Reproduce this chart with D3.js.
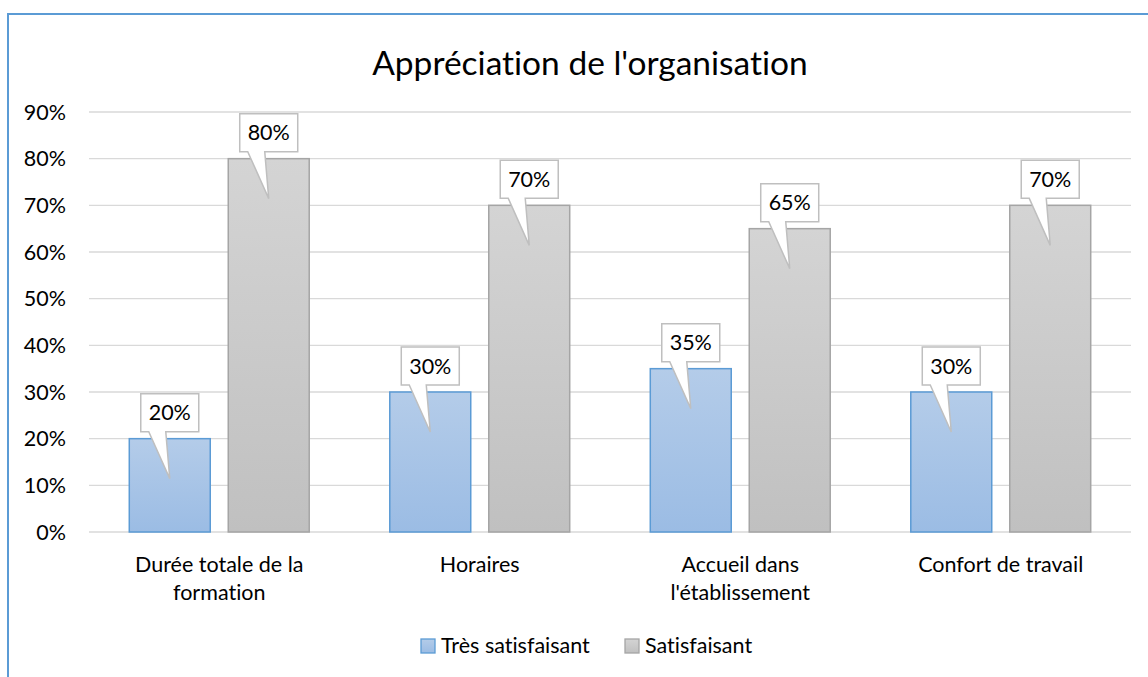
<!DOCTYPE html>
<html>
<head>
<meta charset="utf-8">
<script src="https://cdn.jsdelivr.net/npm/d3@7"></script>
<style>
  body { margin: 0; background: #fff; }
  text { font-family: Lato, "Open Sans", sans-serif; fill: #000; font-variant-ligatures: none; font-feature-settings: "liga" 0, "dlig" 0; }
</style>
</head>
<body>
<svg width="1148" height="677"></svg>
<script>
var categories = ["Durée totale de la formation", "Horaires", "Accueil dans l'établissement", "Confort de travail"]
var categoryLines = [["Durée totale de la", "formation"], ["Horaires"], ["Accueil dans", "l'établissement"], ["Confort de travail"]]
var series = ["Très satisfaisant", "Satisfaisant"]
var tresSatisfaisant = [0.20, 0.30, 0.35, 0.30]
var satisfaisant = [0.80, 0.70, 0.65, 0.70]
var yTicks = [0, 0.1, 0.2, 0.3, 0.4, 0.5, 0.6, 0.7, 0.8, 0.9]

var colors = {
  "Très satisfaisant": { top: "#b4cce9", bottom: "#9bbce4", stroke: "#5b9bd5" },
  "Satisfaisant": { top: "#d4d4d4", bottom: "#c0c0c0", stroke: "#a5a5a5" }
}

var rows = categories.map((c, i) => ({
  cat: c,
  lines: categoryLines[i],
  values: [
    { key: series[0], value: tresSatisfaisant[i] },
    { key: series[1], value: satisfaisant[i] }
  ]
}))

var svg = d3.select("svg")

// outer frame (right/bottom edges lie outside the picture)
svg.append("path")
  .attr("d", "M8,677 V14 H1148")
  .style("fill", "none")
  .style("stroke", "#5b9bd5")
  .style("stroke-width", 2)

var defs = svg.append("defs")
series.forEach((s, i) => {
  var g = defs.append("linearGradient")
    .attr("id", "grad" + i)
    .attr("x1", 0).attr("y1", 0).attr("x2", 0).attr("y2", 1)
  g.append("stop").attr("offset", "0%").attr("stop-color", colors[s].top)
  g.append("stop").attr("offset", "100%").attr("stop-color", colors[s].bottom)
})

var x0 = d3.scaleBand()
  .domain(categories)
  .range([89, 1131])

var x1 = d3.scaleBand()
  .domain(series)
  .range([0, x0.bandwidth()])
  .paddingInner(0.182)
  .paddingOuter(0.407)

var y = d3.scaleLinear()
  .domain([0, 0.9])
  .range([532, 112])

// title
svg.append("text")
  .attr("x", 590)
  .attr("y", 75)
  .attr("text-anchor", "middle")
  .style("font-size", "33.5px")
  .text("Appréciation de l'organisation")

// gridlines
svg.append("g").selectAll("line")
  .data(yTicks)
  .enter().append("line")
  .attr("x1", 89).attr("x2", 1131)
  .attr("y1", d => y(d)).attr("y2", d => y(d))
  .style("stroke", "#d9d9d9")
  .style("stroke-width", 1.3)

// y tick labels
svg.append("g").selectAll("text")
  .data(yTicks)
  .enter().append("text")
  .attr("x", 66)
  .attr("y", d => y(d))
  .attr("dy", "0.35em")
  .attr("text-anchor", "end")
  .style("font-size", "21.5px")
  .text(d => d3.format(".0%")(d))

// bars
var groups = svg.append("g").selectAll("g")
  .data(rows)
  .enter().append("g")
  .attr("transform", d => "translate(" + x0(d.cat) + ",0)")

groups.selectAll("rect")
  .data(d => d.values)
  .enter().append("rect")
  .attr("x", d => x1(d.key))
  .attr("width", x1.bandwidth())
  .attr("y", d => y(d.value))
  .attr("height", d => y(0) - y(d.value))
  .style("fill", d => "url(#grad" + series.indexOf(d.key) + ")")
  .style("stroke", d => colors[d.key].stroke)
  .style("stroke-width", 1.5)

// callout labels
function calloutPath(cx, top) {
  var w = 58, h = 38, gap = 7, tail = 40
  var x0 = cx - w / 2, x1 = cx + w / 2
  var y1 = top - gap, y0 = y1 - h
  return "M" + x0 + "," + y0 + " H" + x1 + " V" + y1 +
    " H" + (cx - 4) + " L" + cx + "," + (top + tail) +
    " L" + (cx - 21) + "," + y1 + " H" + x0 + " Z"
}

var labels = groups.selectAll("g.lab")
  .data(d => d.values)
  .enter().append("g")
  .attr("class", "lab")

labels.append("path")
  .attr("d", d => calloutPath(x1(d.key) + x1.bandwidth() / 2, y(d.value)))
  .style("fill", "#fff")
  .style("stroke", "#bfbfbf")
  .style("stroke-width", 1.5)

labels.append("text")
  .attr("x", d => x1(d.key) + x1.bandwidth() / 2)
  .attr("y", d => y(d.value) - 7 - 19)
  .attr("dy", "0.35em")
  .attr("text-anchor", "middle")
  .style("font-size", "21.5px")
  .text(d => d3.format(".0%")(d.value))

// category labels
groups.append("text")
  .attr("text-anchor", "middle")
  .style("font-size", "21.5px")
  .selectAll("tspan")
  .data(d => d.lines)
  .enter().append("tspan")
  .attr("x", x0.bandwidth() / 2)
  .attr("y", (d, i) => 572 + i * 28)
  .text(d => d)

// legend
var legend = svg.append("g").selectAll("g")
  .data(series)
  .enter().append("g")
  .attr("transform", (d, i) => "translate(" + [421, 625][i] + ",639)")

legend.append("rect")
  .attr("width", 14).attr("height", 14)
  .style("fill", (d, i) => "url(#grad" + i + ")")
  .style("stroke", d => colors[d].stroke)
  .style("stroke-width", 1.3)

legend.append("text")
  .attr("x", 20)
  .attr("y", 14)
  .style("font-size", "21.5px")
  .text(d => d)
</script>
</body>
</html>
